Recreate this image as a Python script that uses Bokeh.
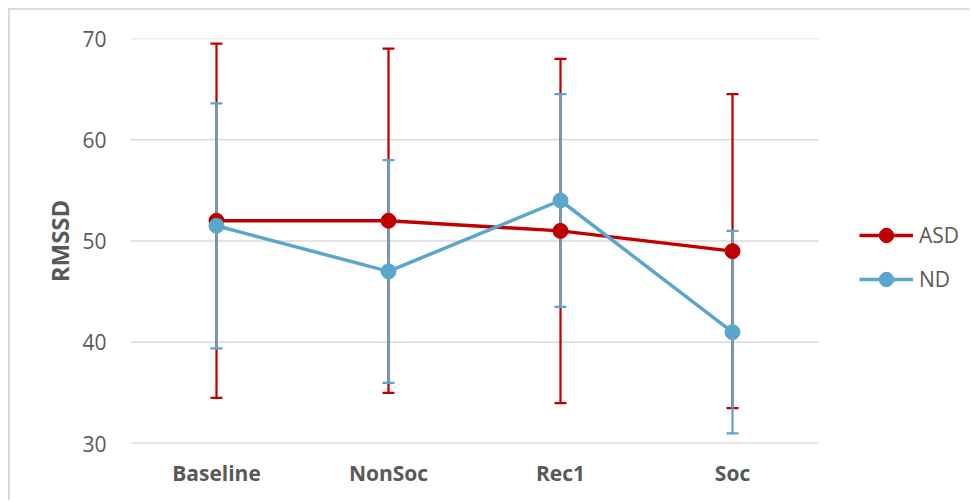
from bokeh.plotting import figure
from bokeh.models import Range1d, Legend, LegendItem, FixedTicker
from bokeh.embed import file_html
from bokeh.resources import INLINE

categories = ["Baseline", "NonSoc", "Rec1", "Soc"]
asd_mean = [52.0, 52.0, 51.0, 49.0]
asd_err = [17.5, 17.0, 17.0, 15.5]
nd_mean = [51.5, 47.0, 54.0, 41.0]
nd_err = [12.1, 11.0, 10.5, 10.0]
y_ticks = [30, 40, 50, 60, 70]

RED = "#C00000"
BLUE = "#5AA6CC"
TXT = "#595959"
GRID = "#D9D9D9"
FONT = "Open Sans"

W, H = 961, 492
LEFT, TOP, BOTTOM = 120, 28, 59
PLOT_W = 688  # pixel width occupied by the categories
n = len(categories)
xs = [i + 0.5 for i in range(n)]
x_end = n * (W - LEFT) / PLOT_W

p = figure(width=W, height=H, x_range=Range1d(0, x_end), y_range=Range1d(30, 70),
           output_backend="svg", toolbar_location=None,
           min_border_left=LEFT, min_border_right=0, min_border_top=TOP, min_border_bottom=BOTTOM)
p.styles = {"margin-left": "8px", "margin-top": "8px",
            "border-left": "2px solid #D9D9D9", "border-top": "2px solid #D9D9D9"}
p.outline_line_color = None
p.background_fill_color = "white"
p.border_fill_color = "white"
p.grid.grid_line_color = None

# horizontal gridlines limited to the category area
p.segment(x0=[0] * len(y_ticks), x1=[n] * len(y_ticks), y0=y_ticks, y1=y_ticks,
          line_color=GRID, line_width=1.3)
p.segment(x0=[0], x1=[n], y0=[y_ticks[0]], y1=[y_ticks[0]], line_color=GRID, line_width=2)

p.yaxis.ticker = FixedTicker(ticks=y_ticks)
p.yaxis.axis_line_color = None
p.yaxis.major_tick_line_color = None
p.yaxis.minor_tick_line_color = None
p.yaxis.major_label_standoff = 18
p.yaxis.major_label_text_font = FONT
p.yaxis.major_label_text_font_size = "21px"
p.yaxis.major_label_text_color = TXT
p.yaxis.axis_label = "RMSSD"
p.yaxis.axis_label_text_font = FONT
p.yaxis.axis_label_text_font_size = "24px"
p.yaxis.axis_label_text_font_style = "bold"
p.yaxis.axis_label_text_color = TXT
p.yaxis.axis_label_standoff = 3

p.xaxis.ticker = FixedTicker(ticks=xs)
p.xaxis.major_label_overrides = {x: c for x, c in zip(xs, categories)}
p.xaxis.axis_line_color = None
p.xaxis.major_tick_line_color = None
p.xaxis.minor_tick_line_color = None
p.xaxis.major_label_standoff = 9
p.xaxis.major_label_text_font = FONT
p.xaxis.major_label_text_font_size = "21px"
p.xaxis.major_label_text_font_style = "bold"
p.xaxis.major_label_text_color = TXT

def errbars(mean, err, color):
    lo = [m - e for m, e in zip(mean, err)]
    hi = [m + e for m, e in zip(mean, err)]
    p.segment(x0=xs, y0=lo, x1=xs, y1=hi, line_color=color, line_width=2.25)
    p.scatter(x=xs + xs, y=lo + hi, marker="dash", size=12,
              line_color=color, line_width=2.25)

errbars(asd_mean, asd_err, RED)
errbars(nd_mean, nd_err, BLUE)

l1 = p.line(xs, asd_mean, line_color=RED, line_width=3.5)
m1 = p.scatter(xs, asd_mean, size=15, fill_color=RED, line_color=RED)
l2 = p.line(xs, nd_mean, line_color=BLUE, line_width=3.5)
m2 = p.scatter(xs, nd_mean, size=15, fill_color=BLUE, line_color=BLUE)

legend = Legend(items=[LegendItem(label="ASD", renderers=[l1, m1]),
                       LegendItem(label="ND", renderers=[l2, m2])],
                location=(729, 146), glyph_width=54, glyph_height=36, spacing=8,
                label_standoff=6, padding=0, margin=0,
                border_line_color=None, background_fill_alpha=0,
                label_text_font=FONT, label_text_font_size="21px", label_text_color=TXT)
p.add_layout(legend, "center")

open("out.html", "w").write(file_html(p, INLINE))
